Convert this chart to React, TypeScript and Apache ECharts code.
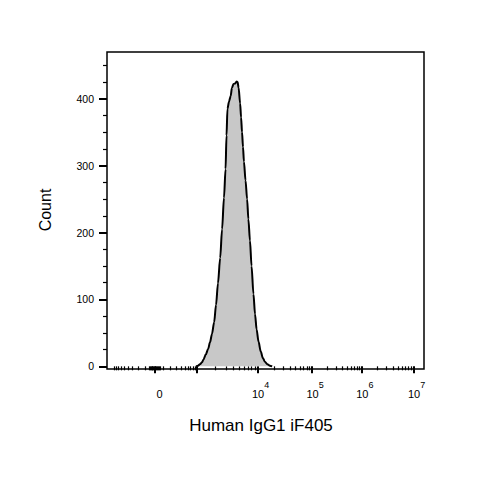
import React, { useEffect, useRef } from "react";
import * as echarts from "echarts";

// Histogram outline: display channel (0..1000 across the plot) and event count
const CHANNELS = [281, 287, 293, 300, 304, 312, 319, 325, 331, 338, 344, 350, 357, 363, 369, 374, 377, 380, 385, 390, 394, 399, 404, 409, 412, 415, 420, 423, 426, 429, 432, 437, 442, 446, 451, 456, 462, 467, 472, 478, 485, 492, 498, 506, 514, 521];
const COUNTS = [0, 1, 3, 6, 10, 18, 26, 36, 48, 66, 92, 124, 162, 205, 252, 295, 345, 385, 396, 404, 416, 422, 423, 426, 425, 417, 393, 372, 350, 328, 306, 278, 250, 220, 188, 150, 108, 78, 55, 37, 22, 12, 7, 3, 1, 0];

// Biexponential display axis: position of zero and of decades 10^3 .. 10^7
const ZERO_POSITION = 150;
const DECADE_EXPONENTS = [3, 4, 5, 6, 7];
const DECADE_POSITIONS = [284, 475, 647, 804, 967];
const X_LABEL_VALUES = [0, 1e4, 1e5, 1e6, 1e7];
const X_LABEL_TEXT = ["{z|0}", "{b|10}{s|4}", "{b|10}{s|5}", "{b|10}{s|6}", "{b|10}{s|7}"];
const X_MAJOR_VALUES = [0, 1e3, 1e4, 1e5, 1e6, 1e7];
const LINEAR_MINOR_VALUES = [-900, -800, -700, -600, -500, -400, -300, -200, -100, -60, -50, -40, -30, -20, -10, 10, 20, 30, 40, 50, 60, 100, 200, 300, 400, 500, 600, 700, 800, 900];

const Y_MAJOR = [0, 100, 200, 300, 400];
const Y_MINOR = [25, 50, 75, 125, 150, 175, 225, 250, 275, 325, 350, 375, 425, 450];

function displayPos(v: number): number {
  const lin = 1000;
  const c = 200;
  if (Math.abs(v) < lin) {
    const span = DECADE_POSITIONS[0] - ZERO_POSITION;
    return ZERO_POSITION + Math.sign(v) * span * Math.asinh(Math.abs(v) / c) / Math.asinh(lin / c);
  }
  const k = Math.log10(v);
  let i = Math.floor(k) - DECADE_EXPONENTS[0];
  if (i >= DECADE_POSITIONS.length - 1) i = DECADE_POSITIONS.length - 2;
  const frac = k - (i + DECADE_EXPONENTS[0]);
  return DECADE_POSITIONS[i] + frac * (DECADE_POSITIONS[i + 1] - DECADE_POSITIONS[i]);
}

export default function App() {
  const ref = useRef<HTMLDivElement>(null);
  useEffect(() => {
    if (!ref.current) return;
    const chart = echarts.init(ref.current, null, { renderer: "svg" });

    const majorPos = X_MAJOR_VALUES.map(displayPos);
    const labelPos = X_LABEL_VALUES.map(displayPos);
    const minorPos: number[] = LINEAR_MINOR_VALUES.map(displayPos);
    for (let k = 3; k < 7; k++) {
      for (let m = 2; m <= 9; m++) minorPos.push(displayPos(m * Math.pow(10, k)));
    }
    const data = CHANNELS.map((x, i) => [x, COUNTS[i]]);
    const font = "'Liberation Sans', Arial, sans-serif";

    chart.setOption({
      animation: false,
      backgroundColor: "#fff",
      grid: {
        left: 107, top: 52, right: 75, bottom: 111,
        show: true, borderColor: "#000", borderWidth: 1.5, backgroundColor: "transparent",
      },
      xAxis: [
        {
          type: "value", min: 0, max: 1000, position: "bottom",
          axisLine: { show: false },
          splitLine: { show: false },
          axisTick: { show: true, inside: false, length: 7, customValues: majorPos, lineStyle: { color: "#000", width: 2 } },
          axisLabel: {
            show: true, customValues: labelPos, margin: 17, color: "#000",
            formatter: (v: number) => {
              let best = 0;
              labelPos.forEach((p, i) => { if (Math.abs(p - v) < Math.abs(labelPos[best] - v)) best = i; });
              return X_LABEL_TEXT[best];
            },
            rich: {
              z: { fontFamily: font, fontSize: 11, color: "#000", lineHeight: 13, padding: [8, 0, 0, 10], verticalAlign: "bottom" },
              b: { fontFamily: font, fontSize: 11, color: "#000", lineHeight: 13, padding: [8, 0, 0, 6], verticalAlign: "bottom" },
              s: { fontFamily: font, fontSize: 9, color: "#000", lineHeight: 11, padding: [0, 0, 10, 0], verticalAlign: "bottom" },
            },
          },
        },
        {
          type: "value", min: 0, max: 1000, position: "bottom",
          axisLine: { show: false },
          splitLine: { show: false },
          axisTick: { show: true, inside: false, length: 4, customValues: minorPos, lineStyle: { color: "#000", width: 1.2 } },
          axisLabel: { show: false },
        },
      ],
      yAxis: [
        {
          type: "value", min: -4, max: 470, position: "left",
          axisLine: { show: false },
          splitLine: { show: false },
          axisTick: { show: true, inside: false, length: 8, customValues: Y_MAJOR, lineStyle: { color: "#000", width: 2 } },
          axisLabel: { show: true, customValues: Y_MAJOR, margin: 13, color: "#000", fontFamily: font, fontSize: 10.5 },
        },
        {
          type: "value", min: -4, max: 470, position: "left",
          axisLine: { show: false },
          splitLine: { show: false },
          axisTick: { show: true, inside: false, length: 4, customValues: Y_MINOR, lineStyle: { color: "#000", width: 1.2 } },
          axisLabel: { show: false },
        },
      ],
      series: [
        {
          type: "line",
          xAxisIndex: 0, yAxisIndex: 0,
          data,
          symbol: "none",
          smooth: 0.3,
          smoothMonotone: "x",
          lineStyle: { color: "#000", width: 2 },
          areaStyle: { color: "#c8c8c8", opacity: 1 },
        },
      ],
      graphic: [
        {
          type: "text", x: 45, y: 210, rotation: Math.PI / 2,
          style: { text: "Count", fontFamily: font, fontSize: 16, fill: "#000", textAlign: "center", textVerticalAlign: "middle" },
        },
        {
          type: "text", x: 261, y: 425,
          style: { text: "Human IgG1 iF405", fontFamily: font, fontSize: 17, fill: "#000", textAlign: "center", textVerticalAlign: "middle" },
        },
      ],
    });
    return () => chart.dispose();
  }, []);
  return <div ref={ref} style={{ width: 499, height: 480, position: "absolute", left: 0, top: 0 }} />;
}
